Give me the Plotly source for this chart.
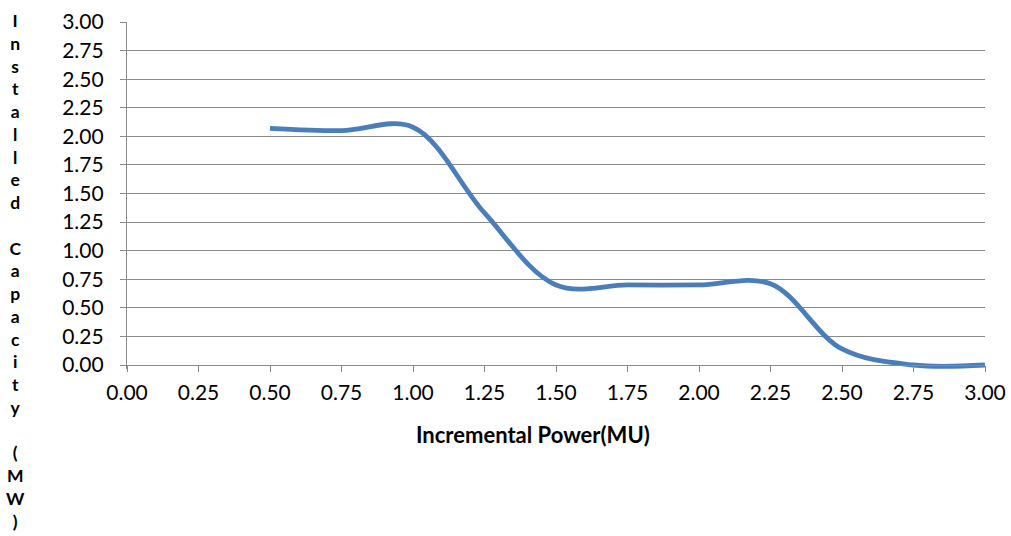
import plotly.graph_objects as go

# Incremental power (MU) vs. installed capacity (MW)
power = [0.5, 0.75, 1.0, 1.25, 1.5, 1.75, 2.0, 2.25, 2.5, 2.75, 3.0]
capacity = [2.07, 2.05, 2.08, 1.33, 0.70, 0.70, 0.70, 0.71, 0.14, 0.0, 0.0]

tick_values = [0.0, 0.25, 0.5, 0.75, 1.0, 1.25, 1.5, 1.75, 2.0, 2.25, 2.5, 2.75, 3.0]
tick_labels = ["0.00", "0.25", "0.50", "0.75", "1.00", "1.25", "1.50",
               "1.75", "2.00", "2.25", "2.50", "2.75", "3.00"]

x_title = "Incremental Power(MU)"
y_title = "Installed Capacity (MW)"

W, H = 1011, 536
left, right, top = 127, 26, 22
axis_bottom = 365                      # pixel row of y = 0
ppu = (axis_bottom - top) / 3.0        # pixels per y unit
pad = 0.035                            # small room below y = 0 so the curve is not clipped
bottom = H - (axis_bottom + pad * ppu)
plot_h = H - top - bottom
plot_w = W - left - right

grid = "#8a8a8a"
font = "Lato, 'Open Sans', sans-serif"

fig = go.Figure()
fig.add_trace(go.Scatter(
    x=power, y=capacity, mode="lines",
    line=dict(color="#4a7ebb", width=4.8, shape="spline", smoothing=1.0),
    hoverinfo="x+y", showlegend=False,
))

def px_x(px):
    return (px - left) / plot_w

def px_y(py):
    return (H - bottom - py) / plot_h

# stacked vertical y title, one character per line
chars = [c if c != " " else "\u00a0" for c in y_title]
fig.add_annotation(
    text="<br>".join(chars), xref="paper", yref="paper",
    x=px_x(15), y=px_y(271), xanchor="center", yanchor="middle",
    showarrow=False, align="center",
    font=dict(family=font, size=17.5, color="#000000", weight="bold"),
)
fig.add_annotation(
    text=x_title, xref="paper", yref="paper",
    x=px_x(533), y=px_y(435), xanchor="center", yanchor="middle",
    showarrow=False,
    font=dict(family=font, size=22, color="#000000", weight="bold"),
)

fig.update_layout(
    width=W, height=H,
    margin=dict(l=left, r=right, t=top, b=bottom, pad=0, autoexpand=False),
    paper_bgcolor="white", plot_bgcolor="white",
    font=dict(family=font, size=21, color="#000000"),
    xaxis=dict(
        range=[0, 3], tickvals=tick_values, ticktext=tick_labels,
        anchor="free", position=pad / (3 + pad), automargin=False,
        showline=True, linecolor=grid, linewidth=1.3,
        ticks="outside", ticklen=6, tickcolor=grid, tickwidth=1.3,
        showgrid=False, zeroline=False, ticklabelstandoff=3,
    ),
    yaxis=dict(
        range=[-pad, 3], tickvals=tick_values, ticktext=tick_labels,
        automargin=False,
        showline=True, linecolor=grid, linewidth=1.3,
        ticks="outside", ticklen=6, tickcolor=grid, tickwidth=1.3,
        showgrid=True, gridcolor=grid, gridwidth=1.3,
        zeroline=False, ticklabelstandoff=12,
    ),
)

fig.write_html("out.html")
